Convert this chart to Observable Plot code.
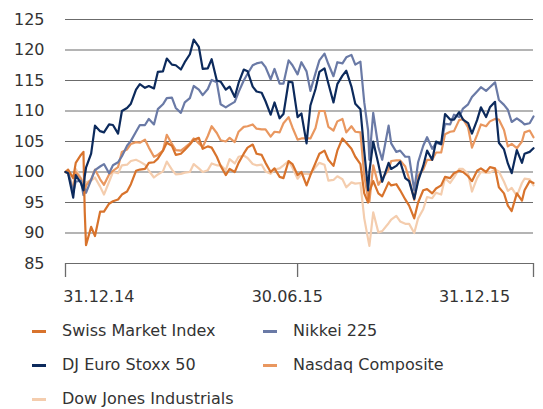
<!DOCTYPE html>
<html><head><meta charset="utf-8">
<script src="https://cdn.jsdelivr.net/npm/d3@7"></script>
<script src="https://cdn.jsdelivr.net/npm/@observablehq/plot@0.6"></script>
<style>
body{margin:0;background:#fff;font-family:"DejaVu Sans",sans-serif;color:#333}
#chart svg{display:block}
#legend{display:grid;grid-template-columns:231px auto;padding:4px 0 0 32px;font-size:16px;line-height:34px;color:#333}
.item{display:flex;align-items:center;white-space:nowrap}
.sw{width:14px;height:3px;margin-right:16px;flex:none}
</style></head><body>
<div id="chart"></div>
<div id="legend"></div>
<script>
const dates = ["2014-12-31","2015-01-02","2015-01-06","2015-01-08","2015-01-12","2015-01-14","2015-01-15","2015-01-16","2015-01-20","2015-01-23",
"2015-01-27","2015-01-30","2015-02-03","2015-02-06","2015-02-10","2015-02-13","2015-02-17","2015-02-20","2015-02-24","2015-02-27",
"2015-03-03","2015-03-06","2015-03-10","2015-03-13","2015-03-17","2015-03-20","2015-03-24","2015-03-27","2015-03-31","2015-04-03",
"2015-04-07","2015-04-10","2015-04-14","2015-04-17","2015-04-21","2015-04-24","2015-04-28","2015-05-01","2015-05-05","2015-05-08",
"2015-05-12","2015-05-15","2015-05-19","2015-05-22","2015-05-26","2015-05-29","2015-06-02","2015-06-05","2015-06-09","2015-06-12",
"2015-06-16","2015-06-19","2015-06-23","2015-06-26","2015-06-30","2015-07-03","2015-07-07","2015-07-10","2015-07-14","2015-07-17",
"2015-07-21","2015-07-24","2015-07-28","2015-07-31","2015-08-04","2015-08-07","2015-08-11","2015-08-14","2015-08-18","2015-08-21",
"2015-08-24","2015-08-25","2015-08-28","2015-09-01","2015-09-04","2015-09-09","2015-09-11","2015-09-15","2015-09-18","2015-09-22",
"2015-09-25","2015-09-29","2015-10-02","2015-10-06","2015-10-09","2015-10-13","2015-10-16","2015-10-20","2015-10-23","2015-10-27",
"2015-10-30","2015-11-03","2015-11-06","2015-11-10","2015-11-13","2015-11-17","2015-11-20","2015-11-24","2015-11-27","2015-12-01",
"2015-12-04","2015-12-08","2015-12-11","2015-12-14","2015-12-18","2015-12-22","2015-12-24","2015-12-28","2015-12-31"];

const smi = [100,100.4,99.0,101.5,102.8,103.3,93.5,88.0,91.0,89.5,
93.5,93.5,94.8,95.2,95.5,96.3,96.8,98.0,100.2,100.4,
100.5,101.5,101.6,102.2,103.5,104.8,104.3,102.8,103.0,103.6,
104.5,105.3,105.6,103.8,104.2,104.0,102.5,101.0,99.5,100.5,
100.0,101.5,103.0,104.0,104.5,103.0,102.8,101.5,100.0,100.6,
99.2,99.0,101.8,101.3,99.5,100.0,97.8,99.5,101.5,103.0,
103.5,102.0,101.0,103.5,105.5,104.8,103.8,102.5,101.3,96.5,
95.0,96.8,98.5,96.5,96.0,98.3,97.8,98.0,97.0,95.5,
94.5,92.4,95.0,97.0,97.2,96.5,97.3,97.8,99.2,99.0,
99.8,100.2,100.0,99.3,98.5,100.2,100.6,100.0,100.8,100.6,
97.5,96.5,94.5,93.6,96.5,95.3,97.0,98.5,98.2];

const nikkei = [100,100,96.7,98.4,98.6,96.2,97.2,96.6,98.7,100.3,
100.9,101.3,99.8,101.1,101.6,102.6,104.3,105.1,106.6,107.7,
107.7,108.7,107.8,110.3,111.1,112.1,112.2,110.5,109.7,111.4,
112.1,114.1,113.5,112.6,113.6,115.1,114.7,111.1,110.6,111.0,
111.5,113.1,115.0,116.1,117.5,117.8,118.0,117.2,115.2,116.9,
114.5,114.5,118.3,117.5,116.0,118.0,116.5,113.3,116.2,118.3,
119.4,117.7,115.7,118.0,117.8,118.8,119.2,117.6,118.1,111.4,
106.8,102.0,109.7,104.1,102.0,107.6,104.7,103.3,103.5,102.5,
102.5,97.0,101.6,104.3,105.7,103.8,104.8,104.5,107.9,107.8,
109.4,109.0,110.4,111.1,112.3,113.2,113.9,113.3,113.9,114.7,
111.8,111.0,110.2,108.2,108.8,108.2,107.8,108.0,109.1];

const euroStoxx = [100,99.8,95.8,99.5,98.2,97.0,99.3,100.7,103.0,107.6,
106.7,106.5,107.8,107.7,106.3,110.0,110.5,111.2,113.5,114.4,
113.8,114.1,113.7,116.4,116.5,118.6,117.6,117.5,116.8,118.0,
119.3,121.7,120.5,116.9,117.0,118.5,115.0,114.8,113.5,114.0,
112.3,114.6,116.8,116.5,114.0,113.2,113.0,111.6,109.4,111.4,
108.8,109.5,114.8,114.7,109.0,109.6,104.7,110.9,113.6,116.4,
117.0,114.5,111.4,114.4,115.8,116.6,114.0,111.2,110.3,103.4,
97.0,100.0,105.0,101.3,98.4,101.5,100.5,101.0,101.7,99.0,
98.5,95.6,98.5,101.0,103.5,102.0,105.0,104.6,109.5,108.6,
108.6,109.8,108.6,108.0,106.3,108.5,110.6,109.0,110.6,111.5,
104.8,103.7,101.4,99.8,103.6,101.5,103.0,103.3,103.9];

const nasdaq = [100,99.8,97.0,100.0,98.9,97.6,96.5,97.8,98.8,100.4,
98.8,97.9,99.6,100.2,100.8,103.3,103.7,104.6,104.9,104.8,
105.3,104.0,102.5,102.8,103.5,106.1,104.6,103.6,103.5,104.0,
104.7,105.5,104.7,104.1,105.9,107.5,106.4,105.2,105.0,105.6,
104.9,106.6,107.4,107.5,107.8,107.1,107.0,107.0,105.8,106.6,
106.5,108.0,109.0,107.3,105.3,105.5,105.5,105.5,107.2,110.0,
110.0,107.4,106.8,108.3,108.7,106.5,107.5,106.6,106.5,99.4,
95.6,95.1,101.1,97.9,98.9,100.4,101.8,101.9,101.9,100.9,
98.9,95.4,99.4,100.4,102.0,102.0,103.2,103.2,106.2,106.6,
106.7,108.5,108.7,107.3,104.0,106.1,107.8,107.5,108.3,108.7,
108.6,106.9,104.2,104.6,103.9,105.0,106.5,106.8,105.7];

const dowJones = [100,100.1,97.5,100.5,99.0,98.2,97.2,98.3,98.6,99.1,
97.6,96.3,98.4,100.0,99.8,101.1,101.2,101.8,102.0,101.7,
101.2,100.2,99.1,99.6,100.1,101.7,100.4,99.6,99.7,99.9,
100.0,101.3,100.6,100.0,100.3,101.4,101.1,101.1,100.3,102.1,
101.4,102.5,102.7,102.3,101.3,101.1,101.2,100.1,99.7,100.4,
100.6,101.1,101.8,100.7,98.9,99.7,99.7,99.6,100.8,101.5,
101.2,98.6,98.7,99.3,98.8,97.5,98.3,98.1,98.2,92.4,
89.0,87.9,93.4,90.1,90.3,91.6,92.2,92.8,91.9,91.5,
91.5,90.0,92.4,93.9,95.9,95.7,96.6,96.3,99.0,98.2,
99.1,100.5,100.5,99.7,96.8,99.0,100.0,99.9,99.9,100.4,
100.1,98.4,96.9,97.4,96.1,98.2,98.9,98.8,97.8];

const seriesNames = ["Swiss Market Index","Nikkei 225","DJ Euro Stoxx 50","Nasdaq Composite","Dow Jones Industrials"];
const seriesColors = ["#d8732c","#6a7aa6","#0c2a5c","#e9975f","#f4cdae"];
const yTicks = [85,90,95,100,105,110,115,120,125];
const xTickDates = ["2014-12-31","2015-06-30","2015-12-31"];
const xLabels = ["31.12.14","30.06.15","31.12.15"];
const xLabelDates = ["2015-01-26","2015-06-22","2015-11-15"];

const parse = d3.utcParse("%Y-%m-%d");
const valuesBySeries = [smi, nikkei, euroStoxx, nasdaq, dowJones];
const table = s => dates.map((d,i)=>({date: parse(d), value: valuesBySeries[s][i]}));
const drawOrder = [4,3,1,0,2];
const labelMap = new Map(xLabelDates.map((d,i)=>[+parse(d), xLabels[i]]));

const chart = Plot.plot({
  width: 543, height: 310,
  marginLeft: 65, marginRight: 10, marginTop: 19, marginBottom: 47,
  style: {fontFamily: "DejaVu Sans, sans-serif", color: "#333", background: "#fff"},
  x: {type: "utc", domain: [parse("2014-12-31"), parse("2015-12-31")]},
  y: {domain: [85,125]},
  marks: [
    Plot.ruleY(yTicks, {stroke: "#6b6b6b", strokeWidth: 1.2}),
    Plot.axisY({ticks: yTicks, tickSize: 0, tickPadding: 21, fontSize: 16, fill: "#333", label: null}),
    Plot.axisX({ticks: xTickDates.map(parse), tickSize: 14, tickFormat: () => "", stroke: "#6b6b6b", strokeWidth: 1.3, label: null}),
    Plot.axisX({ticks: xLabelDates.map(parse), tickSize: 0, tickPadding: 27, fontSize: 16, fill: "#333", tickFormat: d => labelMap.get(+d), label: null}),
    ...drawOrder.map(s => Plot.line(table(s), {x: "date", y: "value", stroke: seriesColors[s], strokeWidth: 2.2, strokeLinejoin: "round"}))
  ]
});
document.getElementById("chart").append(chart);

const legendOrder = [0,1,2,3,4];
const legend = document.getElementById("legend");
legendOrder.forEach(s => {
  const it = document.createElement("div");
  it.className = "item";
  it.innerHTML = `<span class="sw" style="background:${seriesColors[s]}"></span><span>${seriesNames[s]}</span>`;
  legend.append(it);
});
</script>
</body></html>
